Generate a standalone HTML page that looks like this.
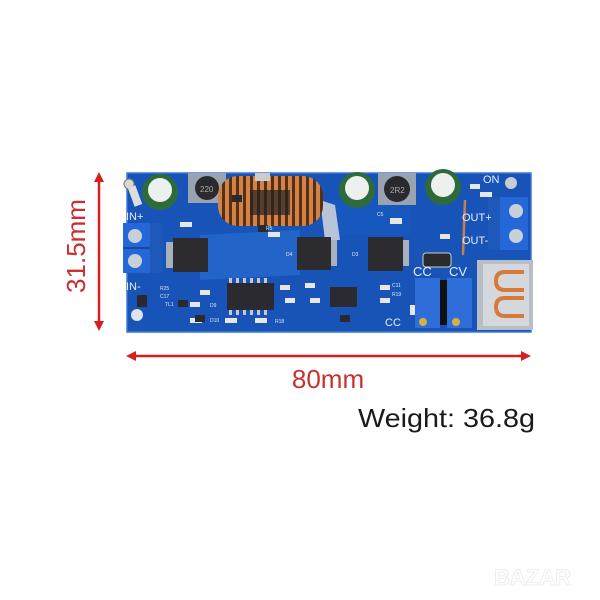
<!DOCTYPE html>
<html><head><meta charset="utf-8"><style>
html,body{margin:0;padding:0;background:#fff;width:600px;height:600px;overflow:hidden}
svg{display:block}
text{font-family:"Liberation Sans",sans-serif}
</style></head><body>
<svg width="600" height="600" viewBox="0 0 600 600">
<defs>
<pattern id="coil" width="7" height="10" patternUnits="userSpaceOnUse">
<rect width="7" height="10" fill="#5a2e10"/><rect x="1" width="4" height="10" fill="#d0844a"/>
</pattern>
</defs>
<!-- board -->
<rect x="127" y="173" width="404" height="159" fill="#1854b8"/>
<rect x="127" y="173" width="404" height="159" fill="none" stroke="#3a78d6" stroke-width="1.5"/>
<path d="M200 235 L300 230 L300 275 L200 280Z" fill="#2a6fd0" opacity="0.6"/>
<path d="M330 200 L410 200 L410 235 L330 235Z" fill="#155bc4" opacity="0.5"/>
<path d="M320 200 L335 205 L340 240 L325 240Z" fill="#b8c4d8"/>
<!-- holes -->
<circle cx="137" cy="315" r="6" fill="#dfe4ec"/>
<circle cx="511" cy="183" r="6" fill="#c8ccd4"/>
<!-- left terminal -->
<rect x="123" y="223" width="40" height="50" fill="#2468d8"/>
<rect x="150" y="223" width="13" height="50" fill="#1e58b8"/>
<circle cx="135" cy="236" r="7" fill="#c9d0d8"/><circle cx="135" cy="261" r="7" fill="#c9d0d8"/>
<line x1="123" y1="248" x2="150" y2="248" stroke="#153f8a" stroke-width="1.5"/>
<!-- right terminal -->
<rect x="488" y="197" width="40" height="53" fill="#2468d8"/>
<rect x="488" y="197" width="12" height="53" fill="#1e58b8"/>
<circle cx="516" cy="211" r="7" fill="#c9d0d8"/><circle cx="516" cy="236" r="7" fill="#c9d0d8"/>
<!-- small lead left -->
<circle cx="129" cy="184" r="5" fill="#d8d8d0" stroke="#777"/>
<rect x="131" y="186" width="8" height="20" fill="#ddd" transform="rotate(-20 135 196)"/>
<!-- capacitors -->
<g>
<circle cx="160" cy="192" r="18" fill="#2e6b3a"/><circle cx="160" cy="190" r="12" fill="#eef0ee"/>
<circle cx="357" cy="190" r="18" fill="#2e6b3a"/><circle cx="357" cy="188" r="12" fill="#eef0ee"/>
<circle cx="443" cy="187" r="18" fill="#2e6b3a"/><circle cx="443" cy="185" r="12" fill="#eef0ee"/>
</g>
<line x1="465" y1="200" x2="463" y2="255" stroke="#c8804a" stroke-width="2.5"/>
<!-- inductors -->
<rect x="188" y="173" width="38" height="30" fill="#9aa4b0"/><circle cx="207" cy="188" r="12" fill="#2a2a2e"/>
<text x="200" y="192" font-size="8" fill="#aaa">220</text>
<rect x="378" y="173" width="38" height="32" fill="#9aa4b0"/><circle cx="397" cy="189" r="13" fill="#2a2a2e"/>
<text x="390" y="193" font-size="8" fill="#aaa">2R2</text>
<!-- toroid -->
<rect x="218" y="176" width="105" height="50" rx="20" fill="url(#coil)"/>
<rect x="250" y="190" width="40" height="25" fill="#222" opacity="0.7"/>
<rect x="255" y="173" width="15" height="8" fill="#ccc"/>
<!-- mosfets -->
<g fill="#2c2c30">
<rect x="173" y="238" width="35" height="34"/>
<rect x="297" y="237" width="34" height="33"/>
<rect x="368" y="237" width="35" height="34"/>
</g>
<g fill="#a8b0bc">
<rect x="166" y="242" width="7" height="26"/><rect x="331" y="240" width="6" height="26"/><rect x="403" y="240" width="6" height="26"/>
</g>
<!-- ICs -->
<rect x="227" y="283" width="47" height="27" fill="#2a2a30"/>
<g fill="#c8c8c8"><rect x="229" y="278" width="3" height="5"/><rect x="236" y="278" width="3" height="5"/><rect x="243" y="278" width="3" height="5"/><rect x="250" y="278" width="3" height="5"/><rect x="257" y="278" width="3" height="5"/><rect x="264" y="278" width="3" height="5"/>
<rect x="229" y="310" width="3" height="5"/><rect x="236" y="310" width="3" height="5"/><rect x="243" y="310" width="3" height="5"/><rect x="250" y="310" width="3" height="5"/><rect x="257" y="310" width="3" height="5"/><rect x="264" y="310" width="3" height="5"/></g>
<rect x="330" y="287" width="27" height="20" fill="#2a2a30"/>
<rect x="423" y="253" width="28" height="14" rx="3" fill="#2a2a2a" stroke="#ccc"/>
<!-- small parts -->
<g fill="#e6e6e6">
<rect x="180" y="222" width="12" height="5"/><rect x="200" y="290" width="10" height="5"/><rect x="190" y="302" width="10" height="5"/>
<rect x="268" y="232" width="12" height="5"/><rect x="280" y="285" width="10" height="5"/><rect x="285" y="298" width="10" height="5"/>
<rect x="305" y="283" width="10" height="5"/><rect x="310" y="298" width="10" height="5"/><rect x="380" y="285" width="10" height="5"/>
<rect x="380" y="298" width="10" height="5"/><rect x="390" y="218" width="12" height="6"/><rect x="440" y="234" width="10" height="5"/>
<rect x="470" y="184" width="10" height="5"/><rect x="480" y="192" width="12" height="5"/><rect x="410" y="305" width="6" height="10"/>
<rect x="225" y="318" width="12" height="5"/><rect x="255" y="318" width="12" height="5"/><rect x="190" y="318" width="12" height="5"/>
</g>
<g fill="#2a2a2e"><rect x="232" y="195" width="10" height="7"/><rect x="258" y="225" width="10" height="7"/><rect x="178" y="300" width="10" height="7"/><rect x="195" y="315" width="10" height="7"/><rect x="340" y="315" width="10" height="7"/><rect x="137" y="295" width="10" height="12"/></g>
<!-- pots -->
<rect x="415" y="278" width="25" height="50" fill="#2f6ed8"/><rect x="447" y="278" width="25" height="50" fill="#2f6ed8"/>
<rect x="440" y="280" width="7" height="45" fill="#111"/>
<circle cx="423" cy="322" r="4" fill="#d8b040"/><circle cx="456" cy="322" r="4" fill="#d8b040"/>
<!-- USB -->
<rect x="477" y="260" width="56" height="70" fill="#b8bec6"/>
<rect x="483" y="264" width="46" height="62" fill="#d4d8dc"/>
<path d="M524 272 H505 Q496 272 496 281 Q496 290 505 290 H524" fill="none" stroke="#d47a3a" stroke-width="4"/>
<path d="M524 298 H505 Q496 298 496 307 Q496 316 505 316 H524" fill="none" stroke="#d47a3a" stroke-width="4"/>
<!-- silkscreen -->
<g fill="#e8eef8" font-size="11">
<text x="126" y="220">IN+</text><text x="126" y="290">IN-</text>
<text x="462" y="221">OUT+</text><text x="462" y="244">OUT-</text>
<text x="413" y="276" font-size="13">CC</text><text x="449" y="276" font-size="13">CV</text>
<text x="483" y="183">ON</text><text x="385" y="326">CC</text>
</g>
<g fill="#dfe6f2" font-size="5">
<text x="160" y="290">R25</text><text x="160" y="298">C17</text><text x="165" y="306">TL1</text><text x="210" y="307">D9</text>
<text x="210" y="322">D10</text><text x="275" y="323">R18</text><text x="392" y="287">C11</text><text x="392" y="296">R19</text>
<text x="352" y="256">D3</text><text x="286" y="256">D4</text><text x="377" y="216">C5</text><text x="266" y="230">R5</text>
</g>
<!-- dimension arrows -->
<g stroke="#d62020" stroke-width="2.5" fill="#d62020">
<line x1="99" y1="178" x2="99" y2="326"/>
<line x1="131" y1="356" x2="526" y2="356"/>
</g>
<g fill="#d62020">
<path d="M99 172 L94 182 L104 182Z"/><path d="M99 331 L94 321 L104 321Z"/>
<path d="M126 356 L136 351 L136 361Z"/><path d="M531 356 L521 351 L521 361Z"/>
</g>
<text transform="translate(85 246) rotate(-90)" text-anchor="middle" font-size="26" fill="#c93030">31.5mm</text>
<text x="328" y="388" text-anchor="middle" font-size="26" fill="#c93030">80mm</text>
<text x="358" y="427" font-size="26" fill="#1a1a1a" textLength="177" lengthAdjust="spacingAndGlyphs">Weight: 36.8g</text>
<text x="494" y="585" font-size="22" font-weight="bold" fill="#fff" stroke="#eeeeee" stroke-width="1">BAZAR</text>
</svg>
</body></html>
